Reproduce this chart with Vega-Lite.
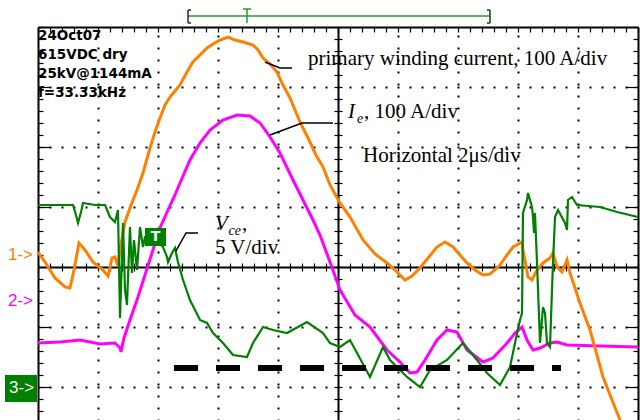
{
  "$schema": "https://vega.github.io/schema/vega-lite/v6.json",
  "width": 600,
  "height": 393,
  "autosize": {"type": "none"},
  "padding": {"left": 38, "top": 27, "right": 2, "bottom": 0},
  "background": "white",
  "config": {"view": {"stroke": null}, "axis": {"zindex": 1, "domainColor": "#000", "tickColor": "#000", "labels": false}},
  "resolve": {"axis": {"x": "independent", "y": "independent"}},
  "datasets": {
    "orange": [
      {"t":0,"v":0.25},{"t":0.117,"v":0.083},{"t":0.283,"v":-0.183},{"t":0.45,"v":-0.333},{"t":0.533,"v":-0.35},{"t":0.6,"v":-0.05},{"t":0.683,"v":0.4},{"t":0.783,"v":0.283},{"t":0.917,"v":0.083},{"t":1.083,"v":-0.05},{"t":1.167,"v":-0.15},{"t":1.233,"v":0.15},{"t":1.283,"v":0.167},{"t":1.333,"v":0.017},{"t":1.367,"v":0.283},{"t":1.45,"v":0.75},{"t":1.533,"v":0.983},{"t":1.65,"v":1.283},{"t":1.75,"v":1.567},{"t":1.867,"v":1.983},{"t":1.95,"v":2.25},{"t":2.033,"v":2.483},{"t":2.117,"v":2.7},{"t":2.2,"v":2.833},{"t":2.283,"v":2.933},{"t":2.367,"v":3.033},{"t":2.483,"v":3.25},{"t":2.583,"v":3.417},{"t":2.7,"v":3.533},{"t":2.817,"v":3.65},{"t":2.917,"v":3.717},{"t":3.033,"v":3.783},{"t":3.167,"v":3.833},{"t":3.283,"v":3.783},{"t":3.417,"v":3.75},{"t":3.583,"v":3.7},{"t":3.667,"v":3.617},{"t":3.75,"v":3.483},{"t":3.867,"v":3.383},{"t":3.983,"v":3.25},{"t":4.083,"v":3.033},{"t":4.2,"v":2.817},{"t":4.283,"v":2.617},{"t":4.367,"v":2.417},{"t":4.45,"v":2.25},{"t":4.533,"v":2.083},{"t":4.633,"v":1.867},{"t":4.75,"v":1.667},{"t":4.867,"v":1.367},{"t":5.033,"v":1.067},{"t":5.2,"v":0.833},{"t":5.417,"v":0.45},{"t":5.617,"v":0.217},{"t":5.817,"v":0.067},{"t":5.95,"v":-0.05},{"t":6.117,"v":-0.217},{"t":6.233,"v":-0.15},{"t":6.367,"v":-0.017},{"t":6.5,"v":0.15},{"t":6.65,"v":0.333},{"t":6.783,"v":0.417},{"t":6.917,"v":0.333},{"t":7.033,"v":0.2},{"t":7.15,"v":0.067},{"t":7.283,"v":-0.05},{"t":7.417,"v":-0.133},{"t":7.533,"v":-0.117},{"t":7.7,"v":0.033},{"t":7.817,"v":0.2},{"t":7.917,"v":0.333},{"t":8.067,"v":0.417},{"t":8.083,"v":0.283},{"t":8.167,"v":-0.167},{"t":8.233,"v":-0.217},{"t":8.317,"v":-0.05},{"t":8.417,"v":0.067},{"t":8.533,"v":0.15},{"t":8.583,"v":0.233},{"t":8.65,"v":0},{"t":8.733,"v":-0.083},{"t":8.817,"v":0.117},{"t":8.867,"v":-0.1},{"t":9.033,"v":-0.6},{"t":9.2,"v":-1.05},{"t":9.417,"v":-1.833},{"t":9.567,"v":-2.217},{"t":9.7,"v":-2.55}
    ],
    "magenta": [
      {"t":0,"v":-1.267},{"t":0.367,"v":-1.25},{"t":0.7,"v":-1.217},{"t":1.033,"v":-1.283},{"t":1.283,"v":-1.267},{"t":1.367,"v":-1.35},{"t":1.383,"v":-1.417},{"t":1.433,"v":-1.183},{"t":1.533,"v":-0.883},{"t":1.667,"v":-0.5},{"t":1.783,"v":-0.133},{"t":1.9,"v":0.233},{"t":2.033,"v":0.65},{"t":2.167,"v":0.95},{"t":2.283,"v":1.2},{"t":2.367,"v":1.4},{"t":2.533,"v":1.783},{"t":2.7,"v":2.067},{"t":2.867,"v":2.283},{"t":3.083,"v":2.45},{"t":3.317,"v":2.533},{"t":3.533,"v":2.517},{"t":3.7,"v":2.4},{"t":3.867,"v":2.167},{"t":4.033,"v":1.9},{"t":4.25,"v":1.45},{"t":4.417,"v":1.117},{"t":4.583,"v":0.783},{"t":4.7,"v":0.533},{"t":4.867,"v":0.083},{"t":5.033,"v":-0.383},{"t":5.283,"v":-0.8},{"t":5.533,"v":-1.0},{"t":5.817,"v":-1.383},{"t":6.033,"v":-1.583},{"t":6.2,"v":-1.767},{"t":6.317,"v":-1.75},{"t":6.45,"v":-1.55},{"t":6.65,"v":-1.217},{"t":6.817,"v":-1.05},{"t":6.983,"v":-1.083},{"t":7.15,"v":-1.383},{"t":7.417,"v":-1.583},{"t":7.583,"v":-1.517},{"t":7.817,"v":-1.267},{"t":7.95,"v":-1.1},{"t":8.067,"v":-1.0},{"t":8.15,"v":-1.217},{"t":8.25,"v":-1.383},{"t":8.367,"v":-1.35},{"t":8.533,"v":-1.267},{"t":8.65,"v":-1.25},{"t":8.817,"v":-1.3},{"t":9.367,"v":-1.317},{"t":10,"v":-1.333}
    ],
    "green": [
      {"t":0,"v":1.033},{"t":0.583,"v":1.033},{"t":0.633,"v":0.867},{"t":0.667,"v":0.733},{"t":0.717,"v":0.917},{"t":0.75,"v":1.067},{"t":0.95,"v":1.033},{"t":1.117,"v":1.033},{"t":1.2,"v":0.833},{"t":1.283,"v":0.75},{"t":1.333,"v":0.95},{"t":1.367,"v":-0.85},{"t":1.417,"v":0.733},{"t":1.45,"v":-0.383},{"t":1.483,"v":-0.633},{"t":1.533,"v":0.667},{"t":1.567,"v":-0.1},{"t":1.6,"v":0.45},{"t":1.65,"v":-0.05},{"t":1.7,"v":0.667},{"t":1.75,"v":0.333},{"t":1.783,"v":0.5},{"t":1.867,"v":0.533},{"t":1.983,"v":0.45},{"t":2.083,"v":0.333},{"t":2.15,"v":0.167},{"t":2.167,"v":0.083},{"t":2.233,"v":0.233},{"t":2.283,"v":0.317},{"t":2.333,"v":0.083},{"t":2.417,"v":-0.217},{"t":2.533,"v":-0.55},{"t":2.7,"v":-0.883},{"t":2.817,"v":-0.933},{"t":2.917,"v":-1.1},{"t":3.083,"v":-1.267},{"t":3.25,"v":-1.467},{"t":3.483,"v":-1.5},{"t":3.583,"v":-1.267},{"t":3.75,"v":-1.0},{"t":3.917,"v":-1.05},{"t":4.15,"v":-1.1},{"t":4.483,"v":-0.917},{"t":4.75,"v":-1.1},{"t":4.867,"v":-1.267},{"t":5.033,"v":-1.333},{"t":5.2,"v":-1.217},{"t":5.317,"v":-1.433},{"t":5.533,"v":-1.833},{"t":5.75,"v":-1.333},{"t":5.867,"v":-1.55},{"t":6.15,"v":-1.833},{"t":6.367,"v":-2.0},{"t":6.533,"v":-1.717},{"t":6.817,"v":-1.55},{"t":7.083,"v":-1.267},{"t":7.317,"v":-1.55},{"t":7.483,"v":-1.767},{"t":7.7,"v":-1.967},{"t":7.867,"v":-1.667},{"t":7.95,"v":-1.267},{"t":8.033,"v":-0.883},{"t":8.067,"v":-0.767},{"t":8.083,"v":0.9},{"t":8.15,"v":1.117},{"t":8.167,"v":1.233},{"t":8.233,"v":1.0},{"t":8.25,"v":0.833},{"t":8.267,"v":0.567},{"t":8.283,"v":0.9},{"t":8.317,"v":0.067},{"t":8.367,"v":-1.267},{"t":8.417,"v":-0.667},{"t":8.45,"v":-0.767},{"t":8.483,"v":-1.267},{"t":8.533,"v":-1.333},{"t":8.583,"v":0.067},{"t":8.617,"v":0.833},{"t":8.667,"v":0.95},{"t":8.783,"v":0.733},{"t":8.817,"v":0.617},{"t":8.833,"v":1.117},{"t":8.9,"v":1.167},{"t":8.983,"v":1.033},{"t":9.367,"v":1.0},{"t":9.65,"v":0.917},{"t":10,"v":0.833}
    ],
    "dash": [{"t":2.267,"v":-1.683},{"t":8.717,"v":-1.683}],
    "leaders": [
      {"id":"a","i":0,"t":3.783,"v":3.417},{"id":"a","i":1,"t":4.033,"v":3.317},{"id":"a","i":2,"t":4.233,"v":3.317},
      {"id":"b","i":0,"t":3.867,"v":2.2},{"id":"b","i":1,"t":4.4,"v":2.4},{"id":"b","i":2,"t":4.917,"v":2.4},
      {"id":"c","i":0,"t":2.3,"v":0.267},{"id":"c","i":1,"t":2.467,"v":0.567},{"id":"c","i":2,"t":2.667,"v":0.567}
    ],
    "serif": [
      {"t":4.5,"v":3.367,"label":"primary winding current, 100 A/div"},
      {"t":5.433,"v":2.483,"label":", 100 A/div"},
      {"t":5.417,"v":1.75,"label":"Horizontal 2μs/div"},
      {"t":3.4,"v":0.617,"label":","},
      {"t":2.95,"v":0.217,"label":"5 V/div"}
    ],
    "italic": [
      {"t":5.167,"v":2.483,"label":"I"},
      {"t":2.95,"v":0.617,"label":"V"}
    ],
    "subs": [
      {"t":5.317,"v":2.4,"label":"e"},
      {"t":3.175,"v":0.533,"label":"ce"}
    ],
    "info": [
      {"t":0,"v":3.783,"label":"24Oct07"},
      {"t":0,"v":3.467,"label":"615VDC dry"},
      {"t":0,"v":3.15,"label":"25kV@1144mA"},
      {"t":0,"v":2.833,"label":"f=33.33kHz"}
    ],
    "boxes": [
      {"t":-0.55,"t2":-0.017,"v":-1.8,"v2":-2.25},
      {"t":1.783,"t2":2.133,"v":0.65,"v2":0.35}
    ],
    "chlabels": [
      {"t":-0.5,"v":0.2,"label":"1->","ch":"1"},
      {"t":-0.5,"v":-0.567,"label":"2->","ch":"2"},
      {"t":-0.483,"v":-2.017,"label":"3->","ch":"3"}
    ],
    "tlabel": [{"t":1.958,"v":0.5,"label":"T"}],
    "bracketGreen": [
      {"t":2.5,"t2":7.533,"v":4.183,"v2":4.183},
      {"t":3.417,"t2":3.55,"v":4.3,"v2":4.3},
      {"t":3.483,"t2":3.483,"v":4.3,"v2":4.067}
    ],
    "bracketDark": [
      {"t":2.5,"t2":2.5,"v":4.283,"v2":4.067},
      {"t":2.5,"t2":2.55,"v":4.283,"v2":4.283},
      {"t":2.5,"t2":2.55,"v":4.067,"v2":4.067},
      {"t":7.533,"t2":7.533,"v":4.283,"v2":4.067},
      {"t":7.483,"t2":7.533,"v":4.283,"v2":4.283},
      {"t":7.483,"t2":7.533,"v":4.067,"v2":4.067}
    ]
  },
  "layer": [
    {
      "data": {"name": "magenta"},
      "mark": {"type": "line", "color": "#ff00ff", "strokeWidth": 3},
      "encoding": {
        "x": {"field": "t", "type": "quantitative", "scale": {"domain": [0, 10], "nice": false, "zero": false},
          "axis": {"orient": "top", "title": null, "values": [1,2,3,4,6,7,8,9], "grid": true, "gridColor": "#000", "gridOpacity": 1, "gridWidth": 2, "gridDash": [2, 10], "gridDashOffset": 1, "domain": false, "ticks": false, "labels": false}},
        "y": {"field": "v", "type": "quantitative", "scale": {"domain": [-2.55, 4], "nice": false, "zero": false},
          "axis": {"orient": "left", "title": null, "values": [-2,-1,1,2,3], "grid": true, "gridColor": "#000", "gridOpacity": 1, "gridWidth": 2, "gridDash": [2, 10], "gridDashOffset": 1, "domain": false, "ticks": false, "labels": false}}
      }
    },
    {
      "data": {"name": "orange"},
      "mark": {"type": "line", "color": "#ff8000", "strokeWidth": 3},
      "encoding": {
        "x": {"field": "t", "type": "quantitative", "scale": {"domain": [0, 10], "nice": false, "zero": false},
          "axis": {"orient": "bottom", "offset": -393, "title": null, "values": [0,0.2,0.4,0.6,0.8,1,1.2,1.4,1.6,1.8,2,2.2,2.4,2.6,2.8,3,3.2,3.4,3.6,3.8,4,4.2,4.4,4.6,4.8,5,5.2,5.4,5.6,5.8,6,6.2,6.4,6.6,6.8,7,7.2,7.4,7.6,7.8,8,8.2,8.4,8.6,8.8,9,9.2,9.4,9.6,9.8,10], "grid": false, "domain": true, "domainWidth": 2, "ticks": true, "tickSize": 5, "tickWidth": 1.2, "labels": false}},
        "y": {"field": "v", "type": "quantitative", "scale": {"domain": [-2.55, 4], "nice": false, "zero": false},
          "axis": {"orient": "right", "offset": -600, "title": null, "values": [-2.4,-2.2,-2,-1.8,-1.6,-1.4,-1.2,-1,-0.8,-0.6,-0.4,-0.2,0,0.2,0.4,0.6,0.8,1,1.2,1.4,1.6,1.8,2,2.2,2.4,2.6,2.8,3,3.2,3.4,3.6,3.8,4], "grid": false, "domain": true, "domainWidth": 2, "ticks": true, "tickSize": 5, "tickWidth": 1.2, "labels": false}}
      }
    },
    {
      "data": {"name": "green"},
      "mark": {"type": "line", "color": "#008000", "strokeWidth": 2.2},
      "encoding": {
        "x": {"field": "t", "type": "quantitative", "scale": {"domain": [0, 10], "nice": false, "zero": false},
          "axis": {"orient": "top", "offset": -240, "title": null, "values": [0,0.2,0.4,0.6,0.8,1,1.2,1.4,1.6,1.8,2,2.2,2.4,2.6,2.8,3,3.2,3.4,3.6,3.8,4,4.2,4.4,4.6,4.8,5,5.2,5.4,5.6,5.8,6,6.2,6.4,6.6,6.8,7,7.2,7.4,7.6,7.8,8,8.2,8.4,8.6,8.8,9,9.2,9.4,9.6,9.8,10], "grid": false, "domain": true, "domainWidth": 2, "ticks": true, "tickSize": 4, "tickWidth": 1.2, "labels": false}},
        "y": {"field": "v", "type": "quantitative", "scale": {"domain": [-2.55, 4], "nice": false, "zero": false},
          "axis": {"orient": "left", "offset": -300, "title": null, "values": [-2.4,-2.2,-2,-1.8,-1.6,-1.4,-1.2,-1,-0.8,-0.6,-0.4,-0.2,0,0.2,0.4,0.6,0.8,1,1.2,1.4,1.6,1.8,2,2.2,2.4,2.6,2.8,3,3.2,3.4,3.6,3.8,4], "grid": false, "domain": true, "domainWidth": 2, "ticks": true, "tickSize": 4, "tickWidth": 1.2, "labels": false}}
      }
    },
    {
      "data": {"name": "dash"},
      "mark": {"type": "line", "color": "#000", "strokeWidth": 6, "strokeDash": [24, 18], "strokeCap": "butt"},
      "encoding": {
        "x": {"field": "t", "type": "quantitative", "scale": {"domain": [0, 10], "nice": false, "zero": false},
          "axis": {"orient": "bottom", "offset": -153, "title": null, "values": [0,0.2,0.4,0.6,0.8,1,1.2,1.4,1.6,1.8,2,2.2,2.4,2.6,2.8,3,3.2,3.4,3.6,3.8,4,4.2,4.4,4.6,4.8,5,5.2,5.4,5.6,5.8,6,6.2,6.4,6.6,6.8,7,7.2,7.4,7.6,7.8,8,8.2,8.4,8.6,8.8,9,9.2,9.4,9.6,9.8,10], "grid": false, "domain": false, "ticks": true, "tickSize": 4, "tickWidth": 1.2, "labels": false}},
        "y": {"field": "v", "type": "quantitative", "scale": {"domain": [-2.55, 4], "nice": false, "zero": false},
          "axis": {"orient": "right", "offset": -300, "title": null, "values": [-2.4,-2.2,-2,-1.8,-1.6,-1.4,-1.2,-1,-0.8,-0.6,-0.4,-0.2,0,0.2,0.4,0.6,0.8,1,1.2,1.4,1.6,1.8,2,2.2,2.4,2.6,2.8,3,3.2,3.4,3.6,3.8,4], "grid": false, "domain": false, "ticks": true, "tickSize": 4, "tickWidth": 1.2, "labels": false}}
      }
    },
    {
      "data": {"name": "leaders"},
      "mark": {"type": "line", "color": "#000", "strokeWidth": 1.5},
      "encoding": {
        "x": {"field": "t", "type": "quantitative", "scale": {"domain": [0, 10], "nice": false, "zero": false}, "axis": null},
        "y": {"field": "v", "type": "quantitative", "scale": {"domain": [-2.55, 4], "nice": false, "zero": false},
          "axis": {"orient": "left", "offset": -600, "title": null, "values": [-2.4,-2.2,-2,-1.8,-1.6,-1.4,-1.2,-1,-0.8,-0.6,-0.4,-0.2,0,0.2,0.4,0.6,0.8,1,1.2,1.4,1.6,1.8,2,2.2,2.4,2.6,2.8,3,3.2,3.4,3.6,3.8,4], "grid": false, "domain": true, "domainWidth": 2, "ticks": true, "tickSize": 5, "tickWidth": 1.2, "labels": false}},
        "detail": {"field": "id"},
        "order": {"field": "i"}
      }
    },
    {
      "data": {"name": "serif"},
      "mark": {"type": "text", "font": "Liberation Serif", "fontSize": 21, "align": "left", "baseline": "alphabetic", "color": "#000"},
      "encoding": {
        "x": {"field": "t", "type": "quantitative", "scale": {"domain": [0, 10], "nice": false, "zero": false}, "axis": null},
        "y": {"field": "v", "type": "quantitative", "scale": {"domain": [-2.55, 4], "nice": false, "zero": false},
          "axis": {"orient": "right", "offset": -600, "title": null, "values": [-2,-1,1,2,3], "grid": false, "domain": false, "ticks": true, "tickSize": 12, "tickWidth": 1.2, "labels": false}},
        "text": {"field": "label"}
      }
    },
    {
      "data": {"name": "italic"},
      "mark": {"type": "text", "font": "Liberation Serif", "fontStyle": "italic", "fontSize": 21, "align": "left", "baseline": "alphabetic", "color": "#000"},
      "encoding": {
        "x": {"field": "t", "type": "quantitative", "scale": {"domain": [0, 10], "nice": false, "zero": false}, "axis": null},
        "y": {"field": "v", "type": "quantitative", "scale": {"domain": [-2.55, 4], "nice": false, "zero": false},
          "axis": {"orient": "left", "offset": -600, "title": null, "values": [-2,-1,1,2,3], "grid": false, "domain": false, "ticks": true, "tickSize": 12, "tickWidth": 1.2, "labels": false}},
        "text": {"field": "label"}
      }
    },
    {
      "data": {"name": "subs"},
      "mark": {"type": "text", "font": "Liberation Serif", "fontStyle": "italic", "fontSize": 14, "align": "left", "baseline": "alphabetic", "color": "#000"},
      "encoding": {
        "x": {"field": "t", "type": "quantitative", "scale": {"domain": [0, 10], "nice": false, "zero": false}, "axis": null},
        "y": {"field": "v", "type": "quantitative", "scale": {"domain": [-2.55, 4], "nice": false, "zero": false}, "axis": null},
        "text": {"field": "label"}
      }
    },
    {
      "data": {"name": "info"},
      "mark": {"type": "text", "font": "DejaVu Sans", "fontWeight": "bold", "fontSize": 13.5, "align": "left", "baseline": "alphabetic", "color": "#000"},
      "encoding": {
        "x": {"field": "t", "type": "quantitative", "scale": {"domain": [0, 10], "nice": false, "zero": false}, "axis": null},
        "y": {"field": "v", "type": "quantitative", "scale": {"domain": [-2.55, 4], "nice": false, "zero": false}, "axis": null},
        "text": {"field": "label"}
      }
    },
    {
      "data": {"name": "boxes"},
      "mark": {"type": "rect", "color": "#008000"},
      "encoding": {
        "x": {"field": "t", "type": "quantitative", "scale": {"domain": [0, 10], "nice": false, "zero": false}, "axis": null},
        "x2": {"field": "t2"},
        "y": {"field": "v", "type": "quantitative", "scale": {"domain": [-2.55, 4], "nice": false, "zero": false}, "axis": null},
        "y2": {"field": "v2"}
      }
    },
    {
      "data": {"name": "chlabels"},
      "mark": {"type": "text", "font": "Liberation Sans", "fontSize": 17, "align": "left", "baseline": "middle"},
      "encoding": {
        "x": {"field": "t", "type": "quantitative", "scale": {"domain": [0, 10], "nice": false, "zero": false}, "axis": null},
        "y": {"field": "v", "type": "quantitative", "scale": {"domain": [-2.55, 4], "nice": false, "zero": false}, "axis": null},
        "text": {"field": "label"},
        "color": {"field": "ch", "type": "nominal", "scale": {"domain": ["1", "2", "3"], "range": ["#ff8000", "#ff00ff", "#ffffff"]}, "legend": null}
      }
    },
    {
      "data": {"name": "tlabel"},
      "mark": {"type": "text", "font": "DejaVu Sans", "fontWeight": "bold", "fontSize": 14, "align": "center", "baseline": "middle", "color": "#ffffff"},
      "encoding": {
        "x": {"field": "t", "type": "quantitative", "scale": {"domain": [0, 10], "nice": false, "zero": false}, "axis": null},
        "y": {"field": "v", "type": "quantitative", "scale": {"domain": [-2.55, 4], "nice": false, "zero": false}, "axis": null},
        "text": {"field": "label"}
      }
    },
    {
      "data": {"name": "bracketGreen"},
      "mark": {"type": "rule", "color": "#2a9a2a", "strokeWidth": 1.5},
      "encoding": {
        "x": {"field": "t", "type": "quantitative", "scale": {"domain": [0, 10], "nice": false, "zero": false}, "axis": null},
        "x2": {"field": "t2"},
        "y": {"field": "v", "type": "quantitative", "scale": {"domain": [-2.55, 4], "nice": false, "zero": false}, "axis": null},
        "y2": {"field": "v2"}
      }
    },
    {
      "data": {"name": "bracketDark"},
      "mark": {"type": "rule", "color": "#1a3a1a", "strokeWidth": 1.5},
      "encoding": {
        "x": {"field": "t", "type": "quantitative", "scale": {"domain": [0, 10], "nice": false, "zero": false}, "axis": null},
        "x2": {"field": "t2"},
        "y": {"field": "v", "type": "quantitative", "scale": {"domain": [-2.55, 4], "nice": false, "zero": false}, "axis": null},
        "y2": {"field": "v2"}
      }
    }
  ]
}
